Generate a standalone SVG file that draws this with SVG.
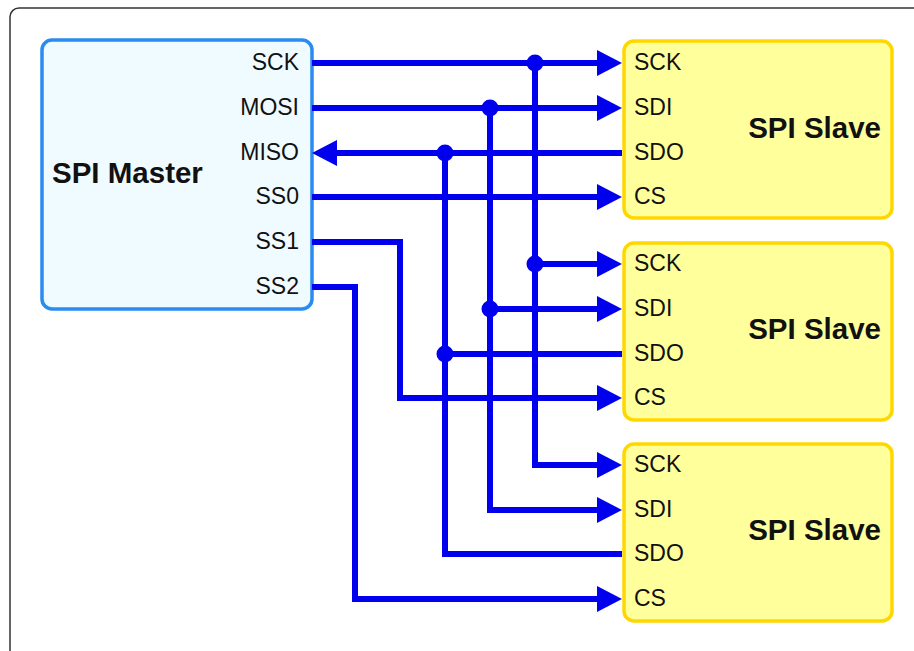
<svg xmlns="http://www.w3.org/2000/svg" width="914" height="651" viewBox="0 0 914 651">
<style>
.port{font-family:"Liberation Sans",Arial,sans-serif;font-size:23px;fill:#111}
.title{font-family:"Liberation Sans",Arial,sans-serif;font-size:29.5px;font-weight:bold;fill:#111}
.master{fill:#f0fbff;stroke:#2a8cf0;stroke-width:3.5}
.slave{fill:#ffff9c;stroke:#ffd700;stroke-width:3.5}
.wire{fill:none;stroke:#0000ee;stroke-width:6;stroke-linejoin:miter}
.arr{marker-end:url(#ah)}
.dot{fill:#0000ee}
</style>
<defs>
<marker id="ah" markerUnits="userSpaceOnUse" markerWidth="26" markerHeight="26" viewBox="0 0 25 26" refX="3" refY="13" orient="auto">
<path d="M0,0 L25,13 L0,26 z" fill="#0000ee"/>
</marker>
</defs>
<rect x="10" y="8" width="1000" height="700" rx="9" fill="#fff" stroke="#333" stroke-width="1.5"/>
<g id="master">
<rect class="master" x="42" y="40" width="270" height="269" rx="10"/>
<text class="title" x="52" y="183">SPI Master</text>
<text class="port" x="299" y="70" text-anchor="end">SCK</text>
<text class="port" x="299" y="115" text-anchor="end">MOSI</text>
<text class="port" x="299" y="160" text-anchor="end">MISO</text>
<text class="port" x="299" y="204" text-anchor="end">SS0</text>
<text class="port" x="299" y="249" text-anchor="end">SS1</text>
<text class="port" x="299" y="294" text-anchor="end">SS2</text>
</g>
<g id="slave1">
<rect class="slave" x="624" y="41" width="268" height="177" rx="10"/>
<text class="title" x="881" y="138" text-anchor="end">SPI Slave</text>
<text class="port" x="634" y="70">SCK</text>
<text class="port" x="634" y="115">SDI</text>
<text class="port" x="634" y="160">SDO</text>
<text class="port" x="634" y="204">CS</text>
</g>
<g id="slave2">
<rect class="slave" x="624" y="243" width="268" height="177" rx="10"/>
<text class="title" x="881" y="339" text-anchor="end">SPI Slave</text>
<text class="port" x="634" y="271">SCK</text>
<text class="port" x="634" y="316">SDI</text>
<text class="port" x="634" y="361">SDO</text>
<text class="port" x="634" y="405">CS</text>
</g>
<g id="slave3">
<rect class="slave" x="624" y="444" width="268" height="177" rx="10"/>
<text class="title" x="881" y="540" text-anchor="end">SPI Slave</text>
<text class="port" x="634" y="472">SCK</text>
<text class="port" x="634" y="517">SDI</text>
<text class="port" x="634" y="561">SDO</text>
<text class="port" x="634" y="606">CS</text>
</g>
<g id="connectors">
<path class="wire arr" d="M312,63 H600"/>
<path class="wire arr" d="M535,63 V465 H600"/>
<path class="wire arr" d="M535,264 H600"/>
<path class="wire arr" d="M312,108 H600"/>
<path class="wire arr" d="M490,108 V510 H600"/>
<path class="wire arr" d="M490,309 H600"/>
<path class="wire arr" d="M622,153 H334"/>
<path class="wire" d="M445,153 V554 H622"/>
<path class="wire" d="M622,354 H445"/>
<path class="wire arr" d="M312,197 H600"/>
<path class="wire arr" d="M312,242 H400 V398 H600"/>
<path class="wire arr" d="M312,287 H355 V599 H600"/>
<circle class="dot" cx="535" cy="63" r="8.5"/>
<circle class="dot" cx="490" cy="108" r="8.5"/>
<circle class="dot" cx="445" cy="153" r="8.5"/>
<circle class="dot" cx="535" cy="264" r="8.5"/>
<circle class="dot" cx="490" cy="309" r="8.5"/>
<circle class="dot" cx="445" cy="354" r="8.5"/>
</g>
</svg>
